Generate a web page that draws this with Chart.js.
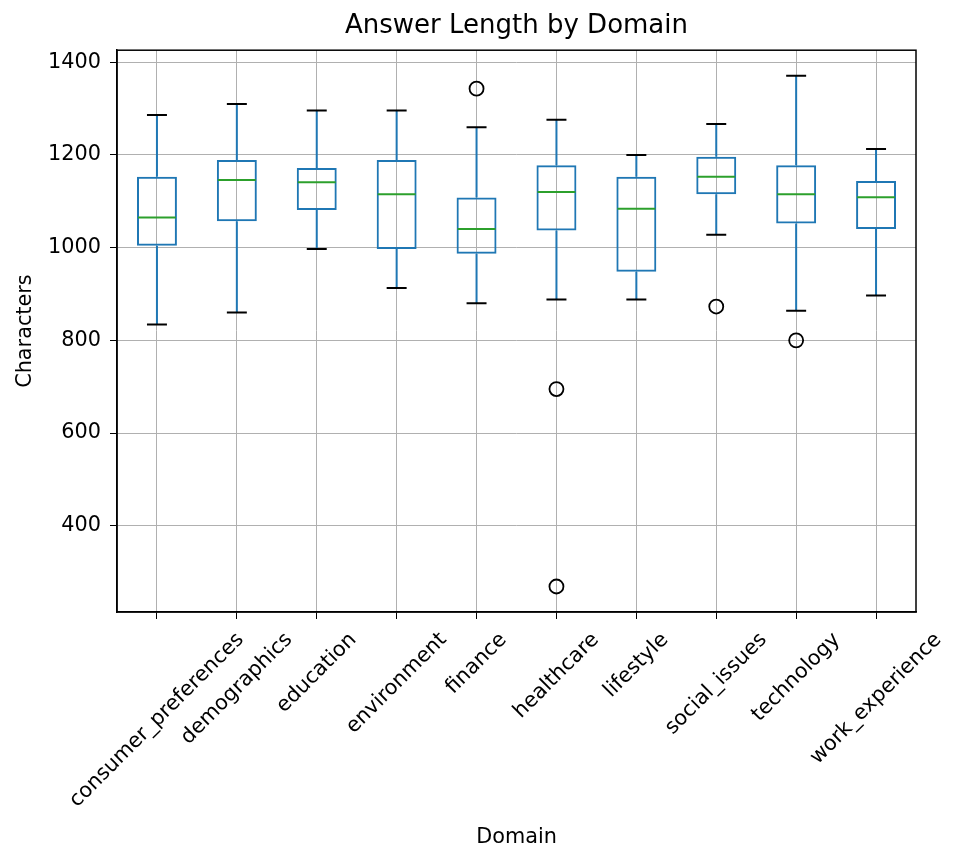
<!DOCTYPE html>
<html>
<head>
<meta charset="utf-8">
<script src="https://cdn.jsdelivr.net/npm/chart.js@4.4.1/dist/chart.umd.min.js"></script>
<style>
  body { margin: 0; background: #fff; }
</style>
</head>
<body>
<canvas id="chart" width="964" height="864"></canvas>
<script>
"use strict"

var domains = ['consumer_preferences', 'demographics', 'education', 'environment', 'finance',
    'healthcare', 'lifestyle', 'social_issues', 'technology', 'work_experience']
var whiskerLow = [834, 860, 997, 913, 880, 888, 888, 1028, 864, 897]
var q1 = [1004, 1057, 1081, 997, 987, 1037, 948, 1115, 1052, 1040]
var medians = [1065, 1146, 1141, 1115, 1040, 1120, 1084, 1153, 1115, 1109]
var q3 = [1153, 1189, 1172, 1189, 1108, 1178, 1153, 1196, 1178, 1144]
var whiskerHigh = [1286, 1310, 1296, 1296, 1260, 1276, 1200, 1267, 1371, 1213]
var outlierDomains = ['finance', 'healthcare', 'healthcare', 'social_issues', 'technology']
var outlierValues = [1343, 695, 269, 873, 800]
var yTicks = [400, 600, 800, 1000, 1200, 1400]

var font = 'DejaVu Sans'
var tickSize = 20.8

// whiskers, caps, medians, top/right spines and the 45deg category labels
var boxExtras = {
    id: 'boxExtras',
    afterDatasetsDraw: function (chart) {
        var c = chart.ctx
        var x = chart.scales.x
        var y = chart.scales.y
        var band = x.getPixelForValue(1) - x.getPixelForValue(0)
        c.save()
        domains.forEach(function (d, i) {
            var cx = x.getPixelForValue(i)
            c.lineWidth = 2
            c.strokeStyle = '#1f77b4'
            c.beginPath()
            c.moveTo(cx, y.getPixelForValue(q1[i]))
            c.lineTo(cx, y.getPixelForValue(whiskerLow[i]))
            c.moveTo(cx, y.getPixelForValue(q3[i]))
            c.lineTo(cx, y.getPixelForValue(whiskerHigh[i]))
            c.stroke()
            c.strokeStyle = '#000'
            c.beginPath()
            c.moveTo(cx - band * 0.125, y.getPixelForValue(whiskerLow[i]))
            c.lineTo(cx + band * 0.125, y.getPixelForValue(whiskerLow[i]))
            c.moveTo(cx - band * 0.125, y.getPixelForValue(whiskerHigh[i]))
            c.lineTo(cx + band * 0.125, y.getPixelForValue(whiskerHigh[i]))
            c.stroke()
            c.strokeStyle = '#2ca02c'
            c.beginPath()
            c.moveTo(cx - band * 0.25 + 1, y.getPixelForValue(medians[i]))
            c.lineTo(cx + band * 0.25 - 1, y.getPixelForValue(medians[i]))
            c.stroke()
        })
        var a = chart.chartArea
        c.strokeStyle = '#000'
        c.lineWidth = 1.5
        c.strokeRect(a.left, a.top, a.right - a.left, a.bottom - a.top)

        // labels rotated 45deg, box centred under the tick (like matplotlib)
        c.fillStyle = '#000'
        c.font = tickSize + 'px "' + font + '"'
        c.textAlign = 'center'
        c.textBaseline = 'middle'
        var top = a.bottom + 16
        chart.data.labels.forEach(function (lab, i) {
            var w = c.measureText(lab).width
            var h = tickSize * 1.16
            var H = (w + h) / Math.SQRT2
            c.save()
            c.translate(x.getPixelForValue(i), top + H / 2)
            c.rotate(-Math.PI / 4)
            c.fillText(lab, 0, 0)
            c.restore()
        })
        c.restore()
    }
}

var ctx = document.getElementById('chart').getContext('2d')
var chart = new Chart(ctx, {
    type: 'bar',
    data: {
        labels: domains,
        datasets: [{
            data: q1.map(function (v, i) { return [v, q3[i]] }),
            backgroundColor: 'rgba(0,0,0,0)',
            borderColor: '#1f77b4',
            borderWidth: 2,
            borderSkipped: false,
            barPercentage: 0.5,
            categoryPercentage: 1.0
        }, {
            type: 'line',
            data: outlierDomains.map(function (d, i) { return { x: d, y: outlierValues[i] } }),
            showLine: false,
            pointStyle: 'circle',
            pointRadius: 7,
            pointBorderWidth: 1.8,
            pointBorderColor: '#000',
            pointBackgroundColor: 'rgba(0,0,0,0)'
        }]
    },
    options: {
        responsive: false,
        animation: false,
        layout: { padding: { left: 0, right: 48, top: 0, bottom: 0 } },
        plugins: {
            legend: { display: false },
            tooltip: { enabled: false },
            title: {
                display: true,
                fullSize: false,
                text: 'Answer Length by Domain',
                color: '#000',
                font: { family: font, size: 26, weight: 'normal' },
                padding: { top: 11, bottom: 8 }
            }
        },
        scales: {
            x: {
                offset: true,
                grid: { offset: false, color: '#b0b0b0', lineWidth: 1, tickColor: '#000', tickLength: 7 },
                border: { color: '#000', width: 1.5 },
                ticks: { display: false },
                title: {
                    display: true, text: 'Domain', color: '#000',
                    font: { family: font, size: 20.8 }, padding: { top: 0, bottom: 14 }
                },
                afterFit: function (s) { s.height = 252 }
            },
            y: {
                min: 214,
                max: 1426,
                grid: { color: '#b0b0b0', lineWidth: 1, tickColor: '#000', tickLength: 7 },
                border: { color: '#000', width: 1.5 },
                ticks: {
                    color: '#000', font: { family: font, size: tickSize }, padding: 9,
                    callback: function (v) { return String(v) }
                },
                afterBuildTicks: function (s) {
                    s.ticks = yTicks.map(function (v) { return { value: v } })
                },
                title: {
                    display: true, text: 'Characters', color: '#000',
                    font: { family: font, size: 20.8 }, padding: { top: 13, bottom: 0 }
                },
                afterFit: function (s) { s.width = 117 }
            }
        }
    },
    plugins: [boxExtras]
})
</script>
</body>
</html>
